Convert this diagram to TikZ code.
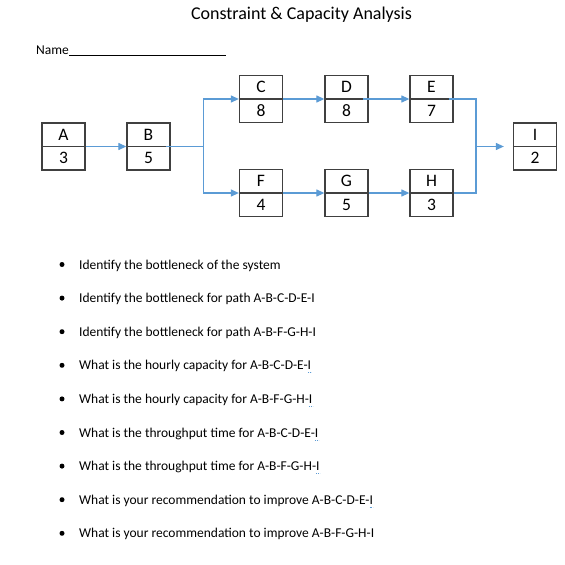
\documentclass[tikz,border=0pt]{standalone}
\usepackage{fontspec}
\setmainfont{Carlito}
\usetikzlibrary{arrows.meta}
\definecolor{flow}{HTML}{5B9BD5}
\definecolor{edge}{HTML}{404040}
\newcommand\procbox[5]{%
  \node[cell] (#1) at (#2,#3) {};
  \draw[edge,line width=1.3pt] (#1.west) -- (#1.east);
  \node[lbl] (#1-l) at (#2,#3-11.75) {#4};
  \node[lbl] (#1-n) at (#2,#3+11.75) {#5};
}
\begin{document}
\begin{tikzpicture}[x=1pt,y=-1pt,
  cell/.style={draw=edge,line width=1.3pt,minimum width=43pt,minimum height=47pt,inner sep=0pt},
  lbl/.style={font=\fontsize{17.5}{20}\selectfont,inner sep=0pt},
  qtext/.style={font=\fontsize{13.5}{16}\selectfont,inner sep=0pt,anchor=base west},
  dot/.style={circle,fill=black,inner sep=0pt,minimum size=5pt},
  flowline/.style={draw=flow,line width=1.2pt},
  flowarrow/.style={flowline,-{Triangle[length=8pt,width=7pt]}},
  spell/.style={draw=flow,line width=1pt,dash pattern=on 1pt off 0.8pt}
]
\useasboundingbox (0,0) rectangle (565,565);
\fill[white] (0,0) rectangle (565,565);

\node[font=\fontsize{18}{22}\selectfont,anchor=base,inner sep=0pt] (title) at (301.5,19) {Constraint \& Capacity Analysis};
\node[qtext] (name) at (36,54) {Name};
\coordinate (nameend) at (226,55);
\draw[line width=0.8pt] ([yshift=-1pt]name.base east) -- (nameend);

\procbox{A}{63.5}{146.5}{A}{3}
\procbox{B}{148.5}{146.5}{B}{5}
\procbox{C}{261}{99}{C}{8}
\procbox{D}{346.5}{99}{D}{8}
\procbox{E}{431.5}{99}{E}{7}
\procbox{F}{261}{193}{F}{4}
\procbox{G}{346.5}{193}{G}{5}
\procbox{H}{431.5}{193}{H}{3}
\procbox{I}{535}{146.5}{I}{2}

\coordinate (split) at (203.5,146.5);
\coordinate (merge) at (476,146.5);
\draw[flowarrow] (A.east) -- (B.west);
\draw[flowline] ([xshift=-5pt]B.east) -- (split);
\draw[flowarrow] (split) |- (C.west);
\draw[flowarrow] (split) |- (F.west);
\draw[flowarrow] (C.east) -- (D.west);
\draw[flowarrow] ([xshift=-6pt]D.east) -- (E.west);
\draw[flowarrow] (F.east) -- (G.west);
\draw[flowarrow] (G.east) -- (H.west);
\draw[flowline] ([xshift=-5pt]E.east) -| (merge);
\draw[flowline] (H.east) -| (merge);
\draw[flowarrow] (merge) -- ([xshift=-9pt]I.west);

\node[dot] (b1) at (62,264.5) {};
\node[qtext] (q1) at (79,269) {Identify the bottleneck of the system};
\node[dot] (b2) at (62,298.1) {};
\node[qtext] (q2) at (79,302.6) {Identify the bottleneck for path A-B-C-D-E-I};
\node[dot] (b3) at (62,331.7) {};
\node[qtext] (q3) at (79,336.2) {Identify the bottleneck for path A-B-F-G-H-I};
\node[dot] (b4) at (62,365.3) {};
\node[qtext] (q4) at (79,369.8) {What is the hourly capacity for A-B-C-D-E-I};
\node[dot] (b5) at (62,398.9) {};
\node[qtext] (q5) at (79,403.4) {What is the hourly capacity for A-B-F-G-H-I};
\node[dot] (b6) at (62,432.5) {};
\node[qtext] (q6) at (79,437) {What is the throughput time for A-B-C-D-E-I};
\node[dot] (b7) at (62,466.1) {};
\node[qtext] (q7) at (79,470.6) {What is the throughput time for A-B-F-G-H-I};
\node[dot] (b8) at (62,499.7) {};
\node[qtext] (q8) at (79,504.2) {What is your recommendation to improve A-B-C-D-E-I};
\node[dot] (b9) at (62,533.3) {};
\node[qtext] (q9) at (79,537.8) {What is your recommendation to improve A-B-F-G-H-I};

\foreach \q in {q4,q5,q6,q7,q8}{
  \draw[spell] ([xshift=-3.6pt,yshift=-3pt]\q.base east) -- ([yshift=-3pt]\q.base east);
}
\end{tikzpicture}
\end{document}
